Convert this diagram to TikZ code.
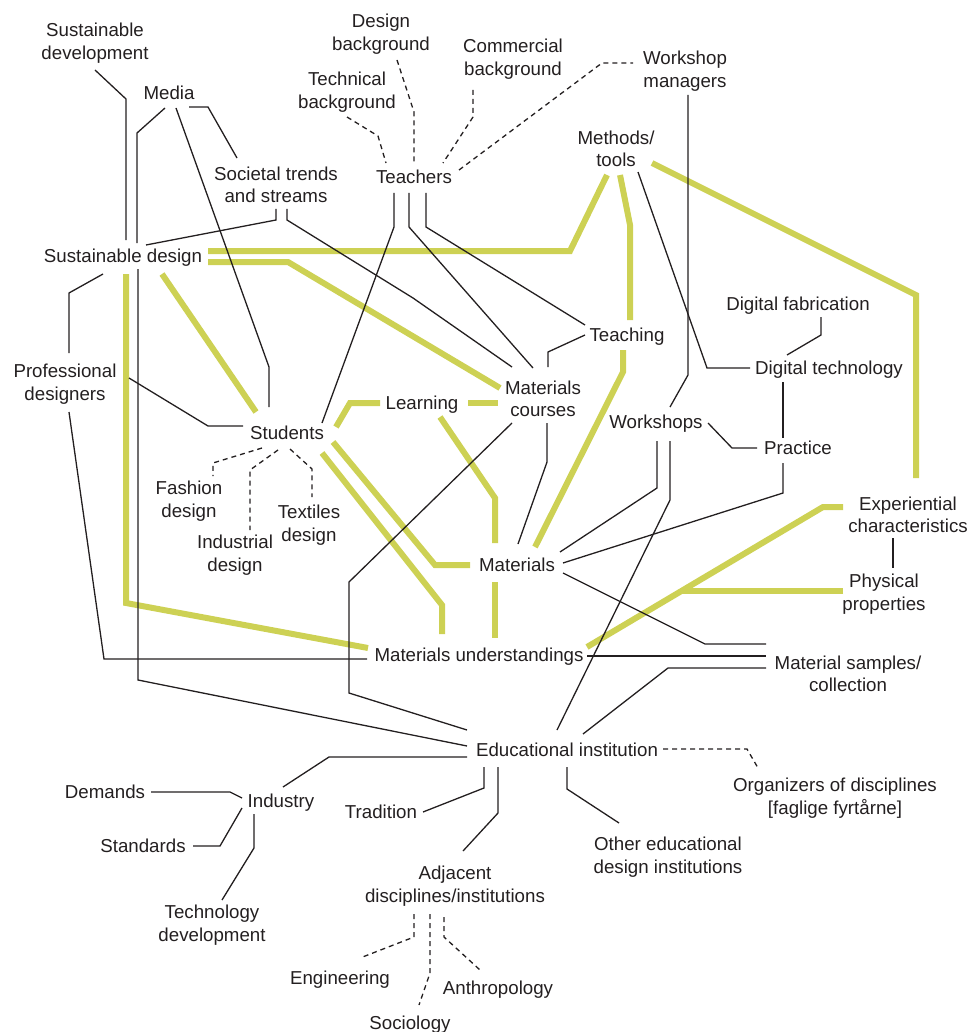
\documentclass[tikz,border=0pt]{standalone}
\usepackage{fontspec}
\setmainfont{Liberation Sans}
\definecolor{ink}{RGB}{35,31,32}
\definecolor{lime}{RGB}{205,209,84}
\begin{document}
\begin{tikzpicture}[x=0.5pt,y=-0.5pt,
  lbl/.style={text=ink, inner sep=0pt, font=\fontsize{9.35}{11}\selectfont, text height=6.7pt, text depth=0pt},
  lbltwo/.style={text=ink, inner sep=0pt, align=center, yshift=-1pt, font=\fontsize{9.35}{11.2}\selectfont},
  link/.style={draw=ink, line width=0.65pt},
  dlink/.style={link, dash pattern=on 2.5pt off 2pt},
  strong/.style={draw=lime, line width=3pt}]
\useasboundingbox (0,0) rectangle (976,1032);

% ---- labels ----
\node[lbltwo] (susdev) at (95,41) {Sustainable\\development};
\node[lbl] (media) at (169,93) {Media};
\node[lbltwo] (trends) at (276,183) {Societal trends\\and streams};
\node[lbltwo] (techbg) at (347,90) {Technical\\background};
\node[lbltwo] (designbg) at (381,32) {Design\\background};
\node[lbltwo] (commbg) at (513,57) {Commercial\\background};
\node[lbltwo] (wsman) at (685,69) {Workshop\\managers};
\node[lbl] (teachers) at (414,177) {Teachers};
\node[lbltwo] (methods) at (616,147) {Methods/\\tools};
\node[lbl] (susdes) at (123,256) {Sustainable design};
\node[lbltwo] (profdes) at (65,382) {Professional\\designers};
\node[lbl] (students) at (287,433) {Students};
\node[lbltwo] (fashion) at (189,499) {Fashion\\design};
\node[lbltwo] (industrial) at (235,553) {Industrial\\design};
\node[lbltwo] (textiles) at (309,523) {Textiles\\design};
\node[lbl] (learning) at (422,403) {Learning};
\node[lbltwo] (matcourses) at (543,397) {Materials\\courses};
\node[lbl] (teaching) at (627,335) {Teaching};
\node[lbl] (digfab) at (798,304) {Digital fabrication};
\node[lbl] (digtech) at (829,368) {Digital technology};
\node[lbl] (workshops) at (656,422) {Workshops};
\node[lbl] (practice) at (798,448) {Practice};
\node[lbltwo] (experiential) at (908,513) {Experiential\\characteristics};
\node[lbltwo] (physical) at (884,592) {Physical\\properties};
\node[lbl] (materials) at (517,565) {Materials};
\node[lbl] (matund) at (479,655) {Materials understandings};
\node[lbltwo] (samples) at (848,672) {Material samples/\\collection};
\node[lbl] (edu) at (567,750) {Educational institution};
\node[lbltwo] (organizers) at (835,796) {Organizers of disciplines\\{}[faglige fyrtårne]};
\node[lbltwo] (othered) at (668,855) {Other educational\\design institutions};
\node[lbl] (demands) at (105,792) {Demands};
\node[lbl] (industry) at (281,801) {Industry};
\node[lbl] (standards) at (143,846) {Standards};
\node[lbl] (tradition) at (381,812) {Tradition};
\node[lbltwo] (techdev) at (212,923) {Technology\\development};
\node[lbltwo] (adjacent) at (455,884) {Adjacent\\disciplines/institutions};
\node[lbl] (engineering) at (340,978) {Engineering};
\node[lbl] (anthropology) at (498,988) {Anthropology};
\node[lbl] (sociology) at (410,1023) {Sociology};

% ---- strong (green) links ----
\draw[strong] (208,251) -- (570,251) -- (607,175);
\draw[strong] (620,175) -- (630,225) -- (630,320);
\draw[strong] (652,163) -- (916,295) -- (916,478);
\draw[strong] (623,350) -- (623,372) -- (535,547);
\draw[strong] (843,507) -- (823,507) -- (587,647);
\draw[strong] (843,591) -- (681,591);
\draw[strong] (126,274) -- (126,603) -- (368,648);
\draw[strong] (162,274) -- (256,412);
\draw[strong] (208,262) -- (288,262) -- (500,388);
\draw[strong] (336,427) -- (350,403) -- (380,403);
\draw[strong] (468,403) -- (498,403);
\draw[strong] (440,417) -- (495,498) -- (495,543);
\draw[strong] (495,582) -- (495,638);
\draw[strong] (333,442) -- (435,565) -- (470,565);
\draw[strong] (322,453) -- (442,605) -- (442,634);

% ---- thin links ----
\draw[link] (95,70) -- (126,99) -- (126,240);
\draw[link] (165,108) -- (137,133) -- (137,243);
\draw[link] (176,108) -- (269,367) -- (269,407);
\draw[link] (189,107) -- (208,107) -- (237,158);
\draw[link] (276,209) -- (276,220) -- (146,245);
\draw[link] (287,209) -- (287,220) -- (413,298) -- (512,367);
\draw[link] (394,193) -- (394,227) -- (322,423);
\draw[link] (409,193) -- (409,227) -- (533,368);
\draw[link] (426,193) -- (426,227) -- (585,325);
\draw[link] (585,335) -- (548,352) -- (548,367);
\draw[link] (688,95) -- (688,375) -- (670,407);
\draw[link] (638,172) -- (707,368) -- (750,368);
\draw[link] (821,317) -- (821,335) -- (787,355);
\draw[link] (783,382) -- (783,438);
\draw[link] (708,423) -- (732,448) -- (757,448);
\draw[link] (783,463) -- (783,493) -- (563,563);
\draw[link] (657,441) -- (657,488) -- (560,552);
\draw[link] (670,441) -- (670,500) -- (557,730);
\draw[link] (893,538) -- (893,568);
\draw[link] (563,573) -- (705,644) -- (766,644);
\draw[link] (587,656) -- (766,656);
\draw[link] (583,734) -- (668,668) -- (766,668);
\draw[link] (567,767) -- (567,789) -- (619,823);
\draw[link] (498,767) -- (498,813) -- (463,851);
\draw[link] (484,767) -- (484,788) -- (423,812);
\draw[link] (467,757) -- (329,757) -- (283,787);
\draw[link] (138,269) -- (138,680) -- (467,746);
\draw[link] (512,423) -- (349,582) -- (349,693) -- (467,730);
\draw[link] (69,412) -- (104,659) -- (367,659);
\draw[link] (103,274) -- (69,293) -- (69,353);
\draw[link] (129,378) -- (208,426) -- (243,426);
\draw[link] (547,423) -- (547,462) -- (518,544);
\draw[link] (151,792) -- (230,792) -- (242,798);
\draw[link] (193,846) -- (220,846) -- (242,808);
\draw[link] (254,814) -- (254,848) -- (222,900);

% ---- dashed links ----
\draw[dlink] (347,117) -- (378,136) -- (386,163);
\draw[dlink] (397,60) -- (414,112) -- (414,163);
\draw[dlink] (473,90) -- (473,117) -- (443,163);
\draw[dlink] (459,170) -- (602,63) -- (633,63);
\draw[dlink] (262,448) -- (213,463) -- (213,476);
\draw[dlink] (278,450) -- (250,470) -- (250,530);
\draw[dlink] (290,449) -- (312,469) -- (312,497);
\draw[dlink] (663,749) -- (747,749) -- (758,768);
\draw[dlink] (414,914) -- (414,937) -- (360,958);
\draw[dlink] (430,914) -- (430,973) -- (419,1005);
\draw[dlink] (444,917) -- (444,937) -- (480,970);
\end{tikzpicture}
\end{document}
